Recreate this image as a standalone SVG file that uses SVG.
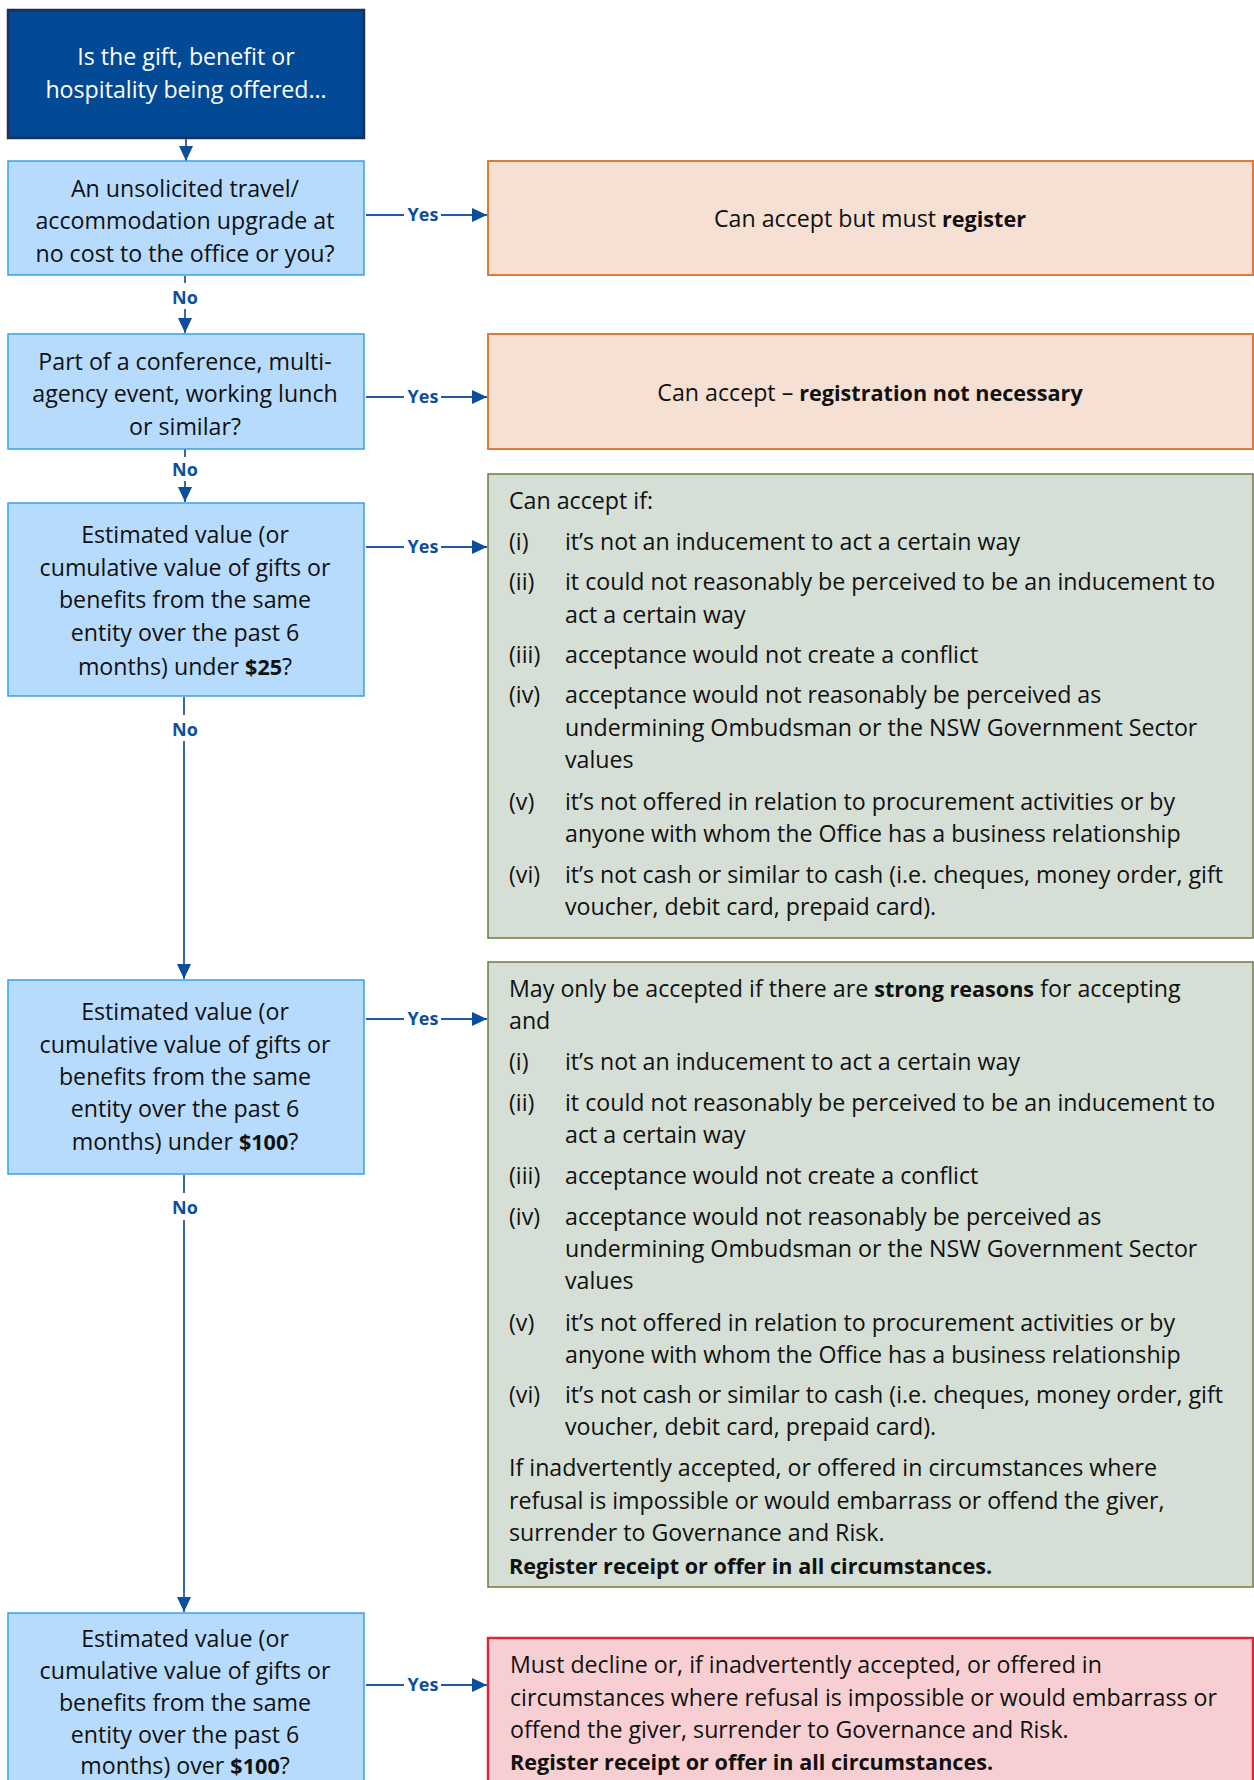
<svg xmlns="http://www.w3.org/2000/svg" width="1254" height="1780" viewBox="0 0 1254 1780">
<style>
  text { font-family: "Open Sans", Lato, "Liberation Sans", sans-serif; font-size: 23.2px; fill: #111; }
  .c { text-anchor: middle; }
  .w { fill: #ffffff; }
  .b { font-weight: bold; font-size: 21.6px; }
  .lbl { font-size: 18px; font-weight: bold; fill: #0d4f9e; text-anchor: middle; }
  .start { fill: #034a96; stroke: #1c2f57; stroke-width: 2.5; }
  .q { fill: #b6dbfc; stroke: #36a3e6; stroke-width: 1.5; }
  .or { fill: #f6e0d3; stroke: #e07a3a; stroke-width: 2; }
  .gr { fill: #d5dfd5; stroke: #6f7b3b; stroke-width: 1.5; }
  .rd { fill: #f7cfd2; stroke: #d92a3c; stroke-width: 2.5; }
  .ln { stroke: #1f5aa6; stroke-width: 1.8; fill: none; }
</style>
<defs>
  <marker id="ahb" viewBox="0 0 10 10" refX="10" refY="5" markerWidth="15" markerHeight="14" markerUnits="userSpaceOnUse" orient="auto" preserveAspectRatio="none">
    <path d="M0,0 L10,5 L0,10 z" fill="#0b4f9c"/>
  </marker>
</defs>

<g id="connectors">
  <line class="ln" x1="186" y1="139" x2="186" y2="161" marker-end="url(#ahb)"/>
  <line class="ln" x1="185" y1="276" x2="185" y2="283"/>
  <text class="lbl" x="185" y="304">No</text>
  <line class="ln" x1="185" y1="309" x2="185" y2="333" marker-end="url(#ahb)"/>
  <line class="ln" x1="185" y1="449" x2="185" y2="457"/>
  <text class="lbl" x="185" y="476">No</text>
  <line class="ln" x1="185" y1="481" x2="185" y2="502" marker-end="url(#ahb)"/>
  <line class="ln" x1="184" y1="697" x2="184" y2="715"/>
  <text class="lbl" x="185" y="736">No</text>
  <line class="ln" x1="184" y1="741" x2="184" y2="979" marker-end="url(#ahb)"/>
  <line class="ln" x1="184" y1="1175" x2="184" y2="1193"/>
  <text class="lbl" x="185" y="1214">No</text>
  <line class="ln" x1="184" y1="1220" x2="184" y2="1612" marker-end="url(#ahb)"/>
  <line class="ln" x1="366" y1="215" x2="404" y2="215"/>
  <text class="lbl" x="423" y="221">Yes</text>
  <line class="ln" x1="441" y1="215" x2="487" y2="215" marker-end="url(#ahb)"/>
  <line class="ln" x1="366" y1="397" x2="404" y2="397"/>
  <text class="lbl" x="423" y="403">Yes</text>
  <line class="ln" x1="441" y1="397" x2="487" y2="397" marker-end="url(#ahb)"/>
  <line class="ln" x1="366" y1="547" x2="404" y2="547"/>
  <text class="lbl" x="423" y="553">Yes</text>
  <line class="ln" x1="441" y1="547" x2="487" y2="547" marker-end="url(#ahb)"/>
  <line class="ln" x1="366" y1="1019" x2="404" y2="1019"/>
  <text class="lbl" x="423" y="1025">Yes</text>
  <line class="ln" x1="441" y1="1019" x2="487" y2="1019" marker-end="url(#ahb)"/>
  <line class="ln" x1="366" y1="1685" x2="404" y2="1685"/>
  <text class="lbl" x="423" y="1691">Yes</text>
  <line class="ln" x1="441" y1="1685" x2="487" y2="1685" marker-end="url(#ahb)"/>
</g>

<g id="start">
  <rect class="start" x="8" y="10" width="356" height="128"/>
  <text class="c w" x="186" y="65">Is the gift, benefit or</text>
  <text class="c w" x="186" y="98">hospitality being offered…</text>
</g>

<g id="q-upgrade">
  <rect class="q" x="8" y="161" width="356" height="114"/>
  <text class="c" x="185" y="197">An unsolicited travel/</text>
  <text class="c" x="185" y="229">accommodation upgrade at</text>
  <text class="c" x="185" y="262">no cost to the office or you?</text>
</g>

<g id="r-register">
  <rect class="or" x="488" y="161" width="765" height="114"/>
  <text class="c" x="870" y="227">Can accept but must <tspan class="b">register</tspan></text>
</g>

<g id="q-conference">
  <rect class="q" x="8" y="334" width="356" height="115"/>
  <text class="c" x="185" y="370">Part of a conference, multi-</text>
  <text class="c" x="185" y="402">agency event, working lunch</text>
  <text class="c" x="185" y="435">or similar?</text>
</g>

<g id="r-noreg">
  <rect class="or" x="488" y="334" width="765" height="115"/>
  <text class="c" x="870" y="401">Can accept – <tspan class="b">registration not necessary</tspan></text>
</g>

<g id="q-25">
  <rect class="q" x="8" y="503" width="356" height="193"/>
  <text class="c" x="185" y="543">Estimated value (or</text>
  <text class="c" x="185" y="576">cumulative value of gifts or</text>
  <text class="c" x="185" y="608">benefits from the same</text>
  <text class="c" x="185" y="641">entity over the past 6</text>
  <text class="c" x="185" y="675">months) under <tspan class="b">$25</tspan>?</text>
</g>

<g id="r-25">
  <rect class="gr" x="488" y="474" width="765" height="464"/>
  <text x="509" y="509">Can accept if:</text>
  <text x="509" y="550">(i)</text><text x="565" y="550">it’s not an inducement to act a certain way</text>
  <text x="509" y="590">(ii)</text><text x="565" y="590">it could not reasonably be perceived to be an inducement to</text>
  <text x="565" y="623">act a certain way</text>
  <text x="509" y="663">(iii)</text><text x="565" y="663">acceptance would not create a conflict</text>
  <text x="509" y="703">(iv)</text><text x="565" y="703">acceptance would not reasonably be perceived as</text>
  <text x="565" y="736">undermining Ombudsman or the NSW Government Sector</text>
  <text x="565" y="768">values</text>
  <text x="509" y="810">(v)</text><text x="565" y="810">it’s not offered in relation to procurement activities or by</text>
  <text x="565" y="842">anyone with whom the Office has a business relationship</text>
  <text x="509" y="883">(vi)</text><text x="565" y="883">it’s not cash or similar to cash (i.e. cheques, money order, gift</text>
  <text x="565" y="915">voucher, debit card, prepaid card).</text>
</g>

<g id="q-100">
  <rect class="q" x="8" y="980" width="356" height="194"/>
  <text class="c" x="185" y="1020">Estimated value (or</text>
  <text class="c" x="185" y="1053">cumulative value of gifts or</text>
  <text class="c" x="185" y="1085">benefits from the same</text>
  <text class="c" x="185" y="1117">entity over the past 6</text>
  <text class="c" x="185" y="1150">months) under <tspan class="b">$100</tspan>?</text>
</g>

<g id="r-100">
  <rect class="gr" x="488" y="962" width="765" height="625"/>
  <text x="509" y="997">May only be accepted if there are <tspan class="b">strong reasons</tspan> for accepting</text>
  <text x="509" y="1029">and</text>
  <text x="509" y="1070">(i)</text><text x="565" y="1070">it’s not an inducement to act a certain way</text>
  <text x="509" y="1111">(ii)</text><text x="565" y="1111">it could not reasonably be perceived to be an inducement to</text>
  <text x="565" y="1143">act a certain way</text>
  <text x="509" y="1184">(iii)</text><text x="565" y="1184">acceptance would not create a conflict</text>
  <text x="509" y="1225">(iv)</text><text x="565" y="1225">acceptance would not reasonably be perceived as</text>
  <text x="565" y="1257">undermining Ombudsman or the NSW Government Sector</text>
  <text x="565" y="1289">values</text>
  <text x="509" y="1331">(v)</text><text x="565" y="1331">it’s not offered in relation to procurement activities or by</text>
  <text x="565" y="1363">anyone with whom the Office has a business relationship</text>
  <text x="509" y="1403">(vi)</text><text x="565" y="1403">it’s not cash or similar to cash (i.e. cheques, money order, gift</text>
  <text x="565" y="1435">voucher, debit card, prepaid card).</text>
  <text x="509" y="1476">If inadvertently accepted, or offered in circumstances where</text>
  <text x="509" y="1509">refusal is impossible or would embarrass or offend the giver,</text>
  <text x="509" y="1541">surrender to Governance and Risk.</text>
  <text x="509" y="1574" class="b">Register receipt or offer in all circumstances.</text>
</g>

<g id="q-over100">
  <rect class="q" x="8" y="1613" width="356" height="190"/>
  <text class="c" x="185" y="1647">Estimated value (or</text>
  <text class="c" x="185" y="1679">cumulative value of gifts or</text>
  <text class="c" x="185" y="1711">benefits from the same</text>
  <text class="c" x="185" y="1743">entity over the past 6</text>
  <text class="c" x="185" y="1774">months) over <tspan class="b">$100</tspan>?</text>
</g>

<g id="r-over100">
  <rect class="rd" x="488" y="1638" width="765" height="170"/>
  <text x="510" y="1673">Must decline or, if inadvertently accepted, or offered in</text>
  <text x="510" y="1706">circumstances where refusal is impossible or would embarrass or</text>
  <text x="510" y="1738">offend the giver, surrender to Governance and Risk.</text>
  <text x="510" y="1770" class="b">Register receipt or offer in all circumstances.</text>
</g>
</svg>
